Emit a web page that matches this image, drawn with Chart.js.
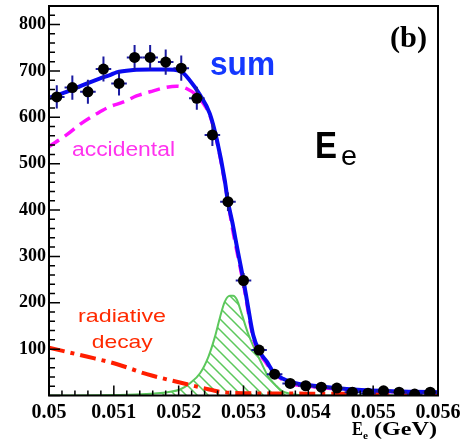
<!DOCTYPE html>
<html>
<head>
<meta charset="utf-8">
<script src="https://cdn.jsdelivr.net/npm/chart.js@4.4.0/dist/chart.umd.min.js"></script>
<style>
  html, body { margin: 0; padding: 0; background: #fff; }
  canvas { display: block; }
</style>
</head>
<body>
<canvas id="chart" width="460" height="442"></canvas>
<script>
// Data points (bin centres, counts, errors)
const dataX = [0.05012, 0.05036, 0.0506, 0.05084, 0.05108, 0.05132, 0.05156, 0.0518, 0.05204, 0.05228,
               0.05252, 0.05276, 0.053, 0.05324, 0.05348, 0.05372, 0.05396, 0.0542, 0.05444, 0.05468,
               0.05492, 0.05516, 0.0554, 0.05564, 0.05588];
const dataY = [644, 664, 655, 704, 673, 729, 729, 719, 706, 641,
               562, 418, 248, 98, 46, 26, 21, 18, 16, 7,
               5, 10, 7, 3, 7];
const dataErr = [25, 26, 26, 27, 26, 27, 27, 27, 27, 25,
                 24, 20, 16, 10, 7, 5, 5, 4, 4, 3,
                 2, 3, 3, 2, 3];
const binHalf = 0.00012;

// Fit curves
const sumX = [0.05, 0.05027, 0.05053, 0.05079, 0.05094, 0.05104, 0.0513, 0.05156, 0.0518, 0.05202,
              0.05217, 0.05233, 0.05248, 0.05259, 0.05271, 0.05276, 0.05283, 0.0529, 0.053, 0.05307,
              0.05315, 0.05325, 0.05336, 0.05346, 0.05361, 0.05382, 0.05408, 0.05459, 0.05511, 0.05561, 0.056];
const sumY = [642, 655, 670, 684, 691, 697, 702, 703, 703, 700,
              680, 648, 608, 551, 465, 418, 372, 320, 248, 191,
              130, 94, 73, 51, 36, 26, 21, 14, 10, 8, 7];

const accX = [0.05, 0.05027, 0.0505, 0.05074, 0.05094, 0.05115, 0.05135, 0.05156, 0.05179, 0.05197,
              0.05212, 0.0523, 0.05243, 0.05248, 0.05259, 0.05271, 0.05283, 0.053, 0.05315, 0.05336,
              0.05361, 0.05408, 0.0546, 0.0551, 0.0556, 0.056];
const accY = [537, 562, 587, 608, 623, 633, 646, 655, 664, 667,
              662, 644, 619, 605, 548, 460, 360, 240, 125, 68,
              33, 19, 13, 9, 7, 6];

const radX = [0.05, 0.05058, 0.05104, 0.05151, 0.05202, 0.05238, 0.05264, 0.053, 0.054, 0.056];
const radY = [103, 84, 68, 46, 28, 16, 8, 5, 4, 3];

const sigX = [0.05, 0.051, 0.0515, 0.05187, 0.05202, 0.05217, 0.05233, 0.05246, 0.05256, 0.05264,
              0.05271, 0.05279, 0.05284, 0.0529, 0.05297, 0.05307, 0.05318, 0.05328, 0.05338, 0.05349,
              0.05359, 0.05379, 0.054, 0.056];
const sigY = [0, 1, 3, 8, 13, 26, 48, 84, 127, 170,
              202, 215, 215, 206, 177, 134, 98, 69, 41, 23,
              10, 2, 0, 0];

// Axis ticks
const xTicks = [0.05, 0.051, 0.052, 0.053, 0.054, 0.055, 0.056];
const xTickLabels = ['0.05', '0.051', '0.052', '0.053', '0.054', '0.055', '0.056'];
const yTicks = [100, 200, 300, 400, 500, 600, 700, 800];

const pts = (xs, ys) => xs.map((x, i) => ({ x: x, y: ys[i] }));

// hatch pattern for the signal
function makeHatch(color) {
    const s = 11;
    const c = document.createElement('canvas');
    c.width = s; c.height = s;
    const g = c.getContext('2d');
    g.strokeStyle = color;
    g.lineWidth = 1.5;
    g.beginPath();
    g.moveTo(-1, -1); g.lineTo(s + 1, s + 1);
    g.moveTo(-1, s - 1); g.lineTo(1, s + 1);
    g.moveTo(s - 1, -1); g.lineTo(s + 1, 1);
    g.stroke();
    return g.createPattern(c, 'repeat');
}

function stretchText(ctx, txt, x, y, font, color, w) {
    ctx.save();
    ctx.font = font;
    ctx.fillStyle = color;
    ctx.textBaseline = 'alphabetic';
    ctx.textAlign = 'left';
    const m = ctx.measureText(txt).width;
    const sx = w ? w / m : 1;
    ctx.translate(x, y);
    ctx.scale(sx, 1);
    ctx.fillText(txt, 0, 0);
    ctx.restore();
}

// error bars under the markers
const errorBars = {
    id: 'errorBars',
    beforeDatasetDraw(chart, args) {
        if (args.index !== 0) return;
        const ctx = chart.ctx;
        const xs = chart.scales.x, ys = chart.scales.y;
        ctx.save();
        ctx.strokeStyle = '#1a1aa0';
        ctx.lineWidth = 2;
        dataX.forEach((x, i) => {
            const px = xs.getPixelForValue(x);
            const py = ys.getPixelForValue(dataY[i]);
            ctx.beginPath();
            ctx.moveTo(xs.getPixelForValue(x - binHalf), py);
            ctx.lineTo(xs.getPixelForValue(x + binHalf), py);
            ctx.moveTo(px, ys.getPixelForValue(dataY[i] - dataErr[i]));
            ctx.lineTo(px, ys.getPixelForValue(dataY[i] + dataErr[i]));
            ctx.stroke();
        });
        ctx.restore();
    }
};

// ROOT-like frame, inward ticks, annotations
const frame = {
    id: 'frame',
    afterDraw(chart) {
        const ctx = chart.ctx;
        const a = chart.chartArea;
        const xs = chart.scales.x, ys = chart.scales.y;
        ctx.save();
        ctx.strokeStyle = '#000';
        ctx.lineWidth = 1.5;
        ctx.beginPath();
        for (let v = 0; v <= 840.001; v += 20) {
            const py = ys.getPixelForValue(v);
            const len = (Math.round(v) % 100 === 0) ? 11 : 6;
            ctx.moveTo(a.left, py);
            ctx.lineTo(a.left + len, py);
        }
        for (let k = 0; k <= 30; k++) {
            const v = 0.05 + k * 0.0002;
            const px = xs.getPixelForValue(v);
            const len = (k % 5 === 0) ? 10 : 5;
            ctx.moveTo(px, a.bottom);
            ctx.lineTo(px, a.bottom - len);
        }
        ctx.stroke();
        ctx.lineWidth = 2;
        ctx.strokeRect(a.left, a.top, a.right - a.left, a.bottom - a.top);
        ctx.restore();

        stretchText(ctx, '(b)', 390, 46.5, 'bold 29px "Liberation Serif"', '#000', 37);
        stretchText(ctx, 'sum', 210, 75, 'bold 33px "Liberation Sans"', '#1438ff', 65);
        stretchText(ctx, 'E', 315, 157.5, 'bold 37px "Liberation Sans"', '#000', 22);
        stretchText(ctx, 'e', 341, 164.5, '28px "Liberation Sans"', '#000', 16);
        stretchText(ctx, 'accidental', 72, 156, '20px "Liberation Sans"', '#ff33ee', 103);
        stretchText(ctx, 'radiative', 78, 321.7, '19px "Liberation Sans"', '#ff2a00', 88);
        stretchText(ctx, 'decay', 91.7, 348, '19px "Liberation Sans"', '#ff2a00', 61);
        stretchText(ctx, 'E', 352, 435, 'bold 19px "Liberation Serif"', '#000', 11);
        stretchText(ctx, 'e', 363, 438.5, 'bold 11px "Liberation Serif"', '#000', 5);
        stretchText(ctx, '(GeV)', 374, 435, 'bold 19px "Liberation Serif"', '#000', 63);
    }
};

const ctx = document.getElementById('chart').getContext('2d');
const hatch = makeHatch('#5cc85c');

new Chart(ctx, {
    type: 'scatter',
    data: {
        datasets: [
            {
                label: 'data',
                data: pts(dataX, dataY),
                pointRadius: 5.5,
                pointBackgroundColor: '#000',
                pointBorderWidth: 0,
                showLine: false,
                order: 0
            },
            {
                type: 'line',
                label: 'sum',
                data: pts(sumX, sumY),
                borderColor: '#0a0af0',
                borderWidth: 4,
                pointRadius: 0,
                cubicInterpolationMode: 'monotone',
                fill: false,
                order: 1
            },
            {
                type: 'line',
                label: 'radiative decay',
                data: pts(radX, radY),
                borderColor: '#ff1e00',
                borderWidth: 4,
                borderDash: [16, 6, 4, 6],
                pointRadius: 0,
                cubicInterpolationMode: 'monotone',
                fill: false,
                order: 2
            },
            {
                type: 'line',
                label: 'accidental',
                data: pts(accX, accY),
                borderColor: '#ff10ff',
                borderWidth: 3.5,
                borderDash: [12, 7],
                pointRadius: 0,
                cubicInterpolationMode: 'monotone',
                fill: false,
                order: 3
            },
            {
                type: 'line',
                label: 'signal',
                data: pts(sigX, sigY),
                borderColor: '#5cc85c',
                borderWidth: 2,
                backgroundColor: hatch,
                pointRadius: 0,
                cubicInterpolationMode: 'monotone',
                fill: 'origin',
                order: 4
            }
        ]
    },
    options: {
        responsive: false,
        animation: false,
        layout: { padding: { top: 6, right: 22, left: 0, bottom: 0 } },
        plugins: {
            legend: { display: false },
            tooltip: { enabled: false }
        },
        scales: {
            x: {
                type: 'linear',
                min: 0.05,
                max: 0.056,
                grid: { display: false, drawTicks: false },
                border: { display: false },
                afterBuildTicks: (scale) => { scale.ticks = xTicks.map(v => ({ value: v })); },
                afterFit: (scale) => { scale.height = 46.5; scale.paddingLeft = 0; scale.paddingRight = 0; },
                ticks: {
                    autoSkip: false,
                    maxRotation: 0,
                    padding: 5,
                    color: '#000',
                    font: { family: '"Liberation Serif"', size: 20, weight: 'bold' },
                    callback: (value, index) => xTickLabels[index]
                }
            },
            y: {
                type: 'linear',
                min: 0,
                max: 840,
                grid: { display: false, drawTicks: false },
                border: { display: false },
                afterBuildTicks: (scale) => { scale.ticks = yTicks.map(v => ({ value: v })); },
                afterFit: (scale) => { scale.width = 49; scale.paddingTop = 0; scale.paddingBottom = 0; },
                ticks: {
                    padding: 3,
                    color: '#000',
                    font: { family: '"Liberation Serif"', size: 18, weight: 'bold' },
                    callback: (value) => String(value)
                }
            }
        }
    },
    plugins: [errorBars, frame]
});
</script>
</body>
</html>
